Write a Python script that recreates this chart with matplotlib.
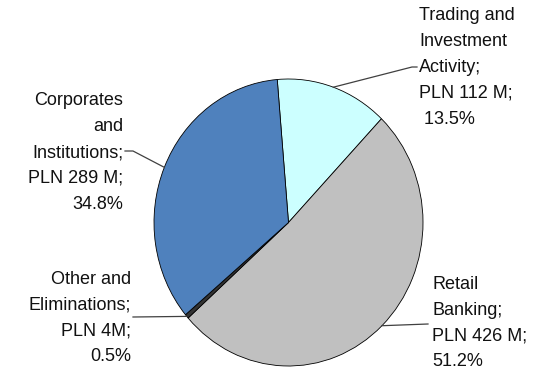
import numpy as np
import matplotlib
matplotlib.use("Agg")
import matplotlib.pyplot as plt

# segment data (clockwise from the top)
names = ["Trading and\nInvestment\nActivity;", "Retail\nBanking;", "Other and\nEliminations;", "Corporates\nand\nInstitutions;"]
amounts = ["PLN 112 M;", "PLN 426 M;", "PLN 4M;", "PLN 289 M;"]
values = [112, 426, 4, 289]
pcts = ["\u00a013.5%", "51.2%", "0.5%", "34.8%"]
colors = ["#CCFFFF", "#C0C0C0", "#333333", "#4F81BD"]

W, H = 553, 371
fig = plt.figure(figsize=(W / 100, H / 100), dpi=100)
# pie box in pixels
cx, cy, rx, ry = 288.5, 222.5, 134.5, 143.5
ax = fig.add_axes([(cx - rx) / W, (H - cy - ry) / H, 2 * rx / W, 2 * ry / H])

wedges, _ = ax.pie(values, colors=colors, startangle=94.8, counterclock=False,
                   wedgeprops=dict(edgecolor="black", linewidth=0.6))
ax.set_aspect("auto")
ax.set_xlim(-1, 1)
ax.set_ylim(-1, 1)
ax.axis("off")


def px(x, y):
    return ((x - cx) / rx, (cy - y) / ry)


# label layout: (text x, text y, elbow points in px)
layout = [
    (419, 67.5, [(412, 67), (417, 67)]),
    (432, 323, [(428, 324)]),
    (131, 318, [(133, 317)]),
    (123, 152.5, [(133, 151), (125, 151)]),
]
ha_list = ["left", "left", "right", "right"]

for i, w in enumerate(wedges):
    mid = np.deg2rad((w.theta1 + w.theta2) / 2)
    ax_pt = (np.cos(mid), np.sin(mid))
    tx, ty, elbows = layout[i]
    pts = [ax_pt] + [px(*e) for e in elbows]
    xs, ys = zip(*pts)
    ax.plot(xs, ys, color="#404040", lw=0.9, clip_on=False)
    label = names[i] + "\n" + amounts[i] + "\n" + pcts[i]
    x, y = px(tx, ty)
    ax.text(x, y, label, ha=ha_list[i], va="center", multialignment=ha_list[i],
            fontsize=13, family="Liberation Sans", linespacing=1.68,
            color="#111111", clip_on=False)

fig.savefig("out.png", dpi=100)
